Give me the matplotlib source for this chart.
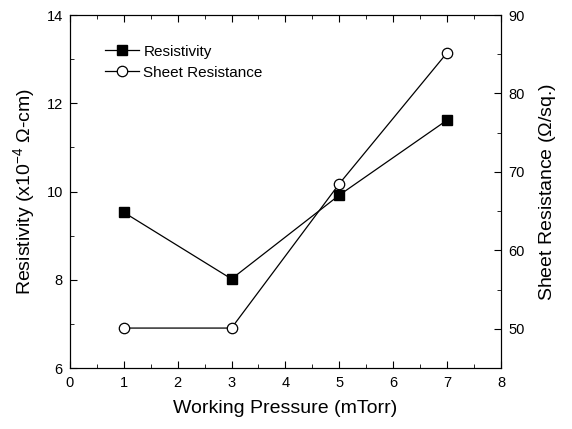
import matplotlib
matplotlib.use("Agg")
import matplotlib.pyplot as plt
from matplotlib.ticker import MultipleLocator

plt.rcParams["font.family"] = ["Liberation Sans", "DejaVu Sans"]
plt.rcParams["mathtext.fontset"] = "custom"
plt.rcParams["mathtext.rm"] = "Liberation Sans"
plt.rcParams["mathtext.it"] = "Liberation Sans:italic"

pressure = [1, 3, 5, 7]
resistivity = [9.53, 8.02, 9.92, 11.62]
sheet_resistance = [50.1, 50.1, 68.5, 85.2]

fig = plt.figure(figsize=(5.72, 4.29), dpi=100)
ax = fig.add_axes([0.122, 0.142, 0.754, 0.823])
ax2 = ax.twinx()

l1, = ax.plot(pressure, resistivity, color="black", lw=0.9, marker="s", ms=6.5,
              mfc="black", mec="black", label="Resistivity")
l2, = ax2.plot(pressure, sheet_resistance, color="black", lw=0.9, marker="o", ms=7.5,
               mfc="white", mec="black", mew=0.9, label="Sheet Resistance")

ax.set_xlim(0, 8)
ax.set_ylim(6, 14)
ax2.set_ylim(45, 90)

ax.xaxis.set_major_locator(MultipleLocator(1))
ax.xaxis.set_minor_locator(MultipleLocator(0.5))
ax.yaxis.set_major_locator(MultipleLocator(2))
ax.yaxis.set_minor_locator(MultipleLocator(1))
ax2.set_yticks([50, 60, 70, 80, 90])
ax2.yaxis.set_minor_locator(MultipleLocator(5))

ax.tick_params(axis="x", which="both", direction="in", top=True, labelsize=10.5, pad=6)
ax.tick_params(axis="y", which="both", direction="in", right=False, labelsize=10.5, pad=5)
ax2.tick_params(axis="y", which="both", direction="in", labelsize=10.5, pad=5)
ax.tick_params(which="major", length=5)
ax.tick_params(which="minor", length=3)
ax2.tick_params(which="major", length=5)
ax2.tick_params(which="minor", length=3)

ax.set_xlabel("Working Pressure (mTorr)", fontsize=14, labelpad=7)
ax.set_ylabel(r"Resistivity (x10$^{-4}$ $\Omega$-cm)", fontsize=14, labelpad=7)
ax2.set_ylabel(r"Sheet Resistance ($\Omega$/sq.)", fontsize=14, labelpad=9)

ax.legend(handles=[l1, l2], loc="upper left", bbox_to_anchor=(0.05, 0.955),
          frameon=False, fontsize=11, handlelength=2.2, handletextpad=0.3,
          labelspacing=0.45)

fig.savefig("out.png", dpi=100)
